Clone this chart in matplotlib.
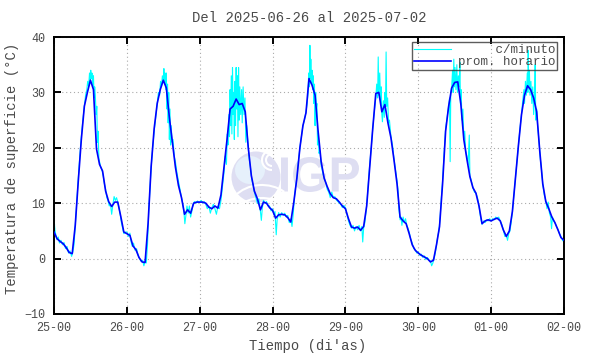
import numpy as np
import pandas as pd
import matplotlib
matplotlib.use('Agg')
import matplotlib.pyplot as plt
import matplotlib.dates as mdates
from matplotlib.patches import Ellipse, Arc, PathPatch
from matplotlib.textpath import TextPath
from matplotlib.font_manager import FontProperties
from matplotlib.transforms import Affine2D, IdentityTransform

# hourly averages (prom. horario), one list per day, hour 0..23
day25 = [4.8, 3.6, 3.1, 2.7, 2.0, 1.1, 0.9, 6.0, 14.0, 21.5, 27.5, 30.0, 32.2, 30.5, 19.8, 17.0, 15.8, 12.2, 10.3, 9.4, 10.2, 10.2, 7.6, 4.8]
day26 = [4.5, 4.2, 2.3, 1.6, 0.2, -0.6, -0.7, 6.4, 16.6, 23.5, 28.0, 30.5, 32.2, 30.8, 25.5, 21.0, 16.5, 13.2, 11.0, 8.0, 8.8, 8.2, 10.0, 10.2]
day27 = [10.2, 10.2, 10.0, 9.3, 9.0, 9.5, 9.1, 11.5, 16.5, 21.5, 27.0, 27.5, 28.8, 27.8, 28.0, 26.5, 20.0, 15.0, 12.2, 10.8, 8.8, 10.2, 10.0, 9.2]
day28 = [8.7, 7.3, 7.9, 8.0, 7.9, 7.4, 6.6, 10.2, 14.5, 20.0, 24.0, 26.3, 32.5, 31.3, 29.5, 23.0, 17.5, 14.5, 13.0, 11.7, 11.0, 10.8, 10.2, 9.5]
day29 = [9.0, 7.2, 5.7, 5.5, 5.7, 5.1, 5.8, 9.5, 16.5, 23.5, 29.8, 30.0, 26.5, 27.8, 24.5, 21.8, 17.8, 13.5, 7.5, 6.8, 6.3, 4.5, 2.5, 1.5]
day30 = [1.0, 0.6, 0.3, 0.0, -0.6, -0.3, 2.5, 5.8, 13.5, 23.0, 27.5, 30.8, 31.8, 31.9, 28.0, 21.5, 18.0, 14.8, 12.8, 11.8, 9.5, 6.3, 6.8, 7.0]
day01 = [6.8, 7.1, 7.3, 6.8, 5.2, 4.0, 5.0, 8.5, 14.5, 20.5, 26.0, 29.5, 31.2, 30.5, 29.0, 26.5, 19.5, 13.5, 10.3, 9.0, 7.5, 6.5, 5.2, 3.8]
last_hour = 3.3

# per-minute readings (c/minuto), read as (hour of day, value) per day
c25 = [(0.0, 7.2), (0.3, 5.2), (0.7, 4.0), (1.0, 3.4), (1.4, 3.9), (1.8, 2.8), (2.3, 3.3), (2.8, 2.5), (3.3, 2.9),
       (3.8, 1.8), (4.3, 2.2), (4.8, 1.0), (5.3, 1.4), (5.8, 0.4), (6.2, 1.2), (6.6, 2.5), (7.0, 6.0), (7.5, 10.5),
       (8.0, 14.5), (8.5, 18.5), (9.0, 22.0), (9.5, 25.0), (10.0, 27.5), (10.4, 29.5), (10.8, 30.5), (11.1, 32.0),
       (11.4, 31.0), (11.7, 33.5), (11.9, 32.0), (12.1, 34.0), (12.3, 32.5), (12.5, 33.5), (12.8, 31.0), (13.0, 33.0),
       (13.2, 29.0), (13.4, 31.0), (13.6, 29.5), (13.9, 26.0), (14.1, 27.5), (14.3, 21.0), (14.5, 23.0), (14.8, 18.0),
       (15.0, 17.5), (15.4, 16.5), (15.8, 16.0), (16.2, 15.0), (16.6, 13.5), (17.0, 12.5), (17.4, 11.0), (17.8, 10.5),
       (18.2, 9.5), (18.6, 9.8), (19.0, 8.0), (19.4, 9.8), (19.8, 11.2), (20.2, 10.5), (20.6, 11.0), (21.0, 10.2),
       (21.4, 9.2), (21.8, 8.0), (22.2, 6.5), (22.6, 5.5), (23.0, 4.5), (23.5, 4.8)]
c26 = [(0.0, 4.8), (0.5, 4.0), (1.0, 4.6), (1.4, 3.0), (1.8, 2.2), (2.2, 2.8), (2.7, 1.5), (3.2, 1.8), (3.7, 0.6),
       (4.2, 0.0), (4.7, -0.5), (5.2, -0.3), (5.6, -1.3), (6.0, -0.5), (6.4, -0.8), (6.8, 2.5), (7.2, 8.5), (7.6, 12.5),
       (8.0, 16.5), (8.5, 20.0), (9.0, 23.0), (9.5, 25.5), (10.0, 28.0), (10.4, 30.0), (10.8, 29.5), (11.1, 32.0),
       (11.4, 31.0), (11.7, 33.0), (12.0, 32.0), (12.2, 34.3), (12.4, 31.5), (12.6, 33.5), (12.8, 30.5), (13.0, 33.5),
       (13.2, 27.0), (13.4, 31.5), (13.6, 24.5), (13.8, 30.0), (14.0, 21.5), (14.2, 27.0), (14.4, 20.5), (14.6, 24.0),
       (14.9, 21.0), (15.2, 21.5), (15.6, 18.5), (16.0, 17.5), (16.5, 15.5), (17.0, 14.0), (17.5, 12.5), (18.0, 11.0),
       (18.4, 10.0), (18.8, 8.5), (19.1, 6.3), (19.5, 8.0), (19.8, 9.5), (20.2, 8.2), (20.6, 9.5), (21.0, 7.5),
       (21.4, 8.5), (21.8, 9.8), (22.3, 10.3), (22.8, 10.0), (23.3, 10.4), (23.8, 10.1)]
c27 = [(0.0, 10.2), (0.5, 10.5), (1.0, 10.0), (1.5, 10.3), (2.0, 9.8), (2.5, 9.0), (3.0, 9.5), (3.5, 8.2), (4.0, 9.2),
       (4.5, 9.8), (5.0, 9.0), (5.5, 8.0), (6.0, 9.5), (6.5, 9.0), (7.0, 10.5), (7.5, 13.0), (8.0, 15.5), (8.4, 18.5),
       (8.8, 17.0), (9.1, 22.5), (9.3, 20.5), (9.6, 26.0), (9.8, 22.0), (10.0, 30.5), (10.2, 24.0), (10.4, 33.0),
       (10.6, 22.5), (10.8, 34.5), (11.0, 26.0), (11.2, 30.0), (11.4, 21.5), (11.6, 32.0), (11.8, 24.0), (12.0, 34.5),
       (12.2, 27.0), (12.4, 33.0), (12.6, 22.0), (12.8, 34.5), (13.0, 25.0), (13.2, 31.0), (13.5, 26.0), (13.8, 30.5),
       (14.0, 24.5), (14.3, 31.0), (14.6, 26.0), (14.9, 29.0), (15.2, 21.0), (15.5, 24.0), (15.9, 20.5), (16.3, 18.0),
       (16.7, 16.5), (17.1, 14.5), (17.5, 13.5), (18.0, 12.0), (18.5, 11.0), (19.0, 10.0), (19.5, 10.8), (20.0, 8.5),
       (20.3, 6.9), (20.6, 9.0), (21.0, 10.5), (21.5, 10.0), (22.0, 10.3), (22.5, 9.5), (23.0, 9.5), (23.5, 8.6)]
c28 = [(0.0, 9.0), (0.4, 8.0), (0.8, 8.5), (1.2, 4.3), (1.5, 7.0), (2.0, 8.3), (2.5, 7.5), (3.0, 8.3), (3.5, 7.8),
       (4.0, 8.2), (4.5, 7.5), (5.0, 7.8), (5.5, 6.5), (6.0, 7.2), (6.4, 5.8), (6.8, 8.0), (7.2, 11.0), (7.6, 13.0),
       (8.0, 14.5), (8.5, 17.5), (9.0, 20.0), (9.5, 22.0), (10.0, 24.0), (10.5, 25.0), (11.0, 26.5), (11.4, 28.0),
       (11.7, 30.0), (11.9, 33.5), (12.1, 31.0), (12.3, 38.5), (12.45, 32.5), (12.6, 36.0), (12.8, 31.5), (13.0, 34.0),
       (13.2, 30.5), (13.4, 33.0), (13.6, 28.0), (13.8, 31.5), (14.0, 24.0), (14.2, 30.0), (14.4, 27.0), (14.6, 28.0),
       (14.8, 20.5), (15.0, 22.5), (15.3, 19.0), (15.6, 19.5), (16.0, 17.0), (16.5, 15.5), (17.0, 14.5), (17.5, 13.8),
       (18.0, 12.5), (18.5, 12.0), (19.0, 11.0), (19.5, 12.0), (20.0, 11.0), (20.5, 11.2), (21.0, 10.6), (21.5, 10.3),
       (22.0, 10.0), (22.5, 9.8), (23.0, 9.2), (23.5, 9.6)]
c29 = [(0.0, 9.2), (0.5, 8.0), (1.0, 6.8), (1.5, 6.0), (2.0, 5.5), (2.5, 6.0), (3.0, 5.0), (3.5, 5.8), (4.0, 5.2),
       (4.5, 6.0), (5.0, 5.0), (5.4, 5.8), (5.7, 3.0), (6.0, 5.5), (6.4, 6.5), (6.8, 8.5), (7.2, 11.0), (7.6, 14.0),
       (8.0, 17.0), (8.5, 20.0), (9.0, 23.5), (9.5, 26.5), (10.0, 29.0), (10.3, 31.5), (10.6, 29.0), (10.8, 36.4),
       (11.0, 29.5), (11.3, 33.5), (11.6, 28.0), (11.8, 31.0), (12.0, 26.0), (12.2, 24.7), (12.5, 28.5), (12.8, 25.5),
       (13.0, 30.0), (13.2, 27.0), (13.4, 37.3), (13.6, 27.5), (13.9, 29.0), (14.2, 24.5), (14.5, 25.0), (15.0, 22.0),
       (15.5, 20.5), (16.0, 18.0), (16.5, 16.0), (17.0, 14.0), (17.3, 12.5), (17.6, 9.0), (18.0, 7.0), (18.3, 7.5),
       (18.6, 6.0), (19.0, 7.5), (19.4, 6.5), (19.8, 7.2), (20.2, 6.0), (20.6, 5.5), (21.0, 4.8), (21.5, 3.5),
       (22.0, 2.8), (22.5, 1.8), (23.0, 1.6), (23.5, 1.0)]
c30 = [(0.0, 1.2), (0.5, 0.6), (1.0, 0.8), (1.5, 0.2), (2.0, 0.5), (2.5, -0.2), (3.0, 0.2), (3.5, -0.3), (4.0, -0.4),
       (4.4, -1.3), (4.8, -0.8), (5.2, 0.0), (5.6, 1.0), (6.0, 2.5), (6.4, 4.0), (6.8, 5.0), (7.2, 7.5), (7.6, 11.0),
       (8.0, 14.0), (8.5, 19.0), (9.0, 23.5), (9.5, 25.5), (10.0, 27.5), (10.3, 29.0), (10.5, 17.5), (10.7, 30.0),
       (11.0, 31.0), (11.3, 34.0), (11.5, 30.0), (11.7, 36.0), (11.9, 31.0), (12.1, 34.5), (12.4, 30.5), (12.7, 35.0),
       (12.9, 30.0), (13.2, 33.0), (13.5, 31.0), (13.7, 35.5), (13.9, 28.0), (14.1, 30.5), (14.4, 25.0), (14.7, 27.0),
       (15.0, 21.5), (15.3, 23.0), (15.6, 19.5), (16.0, 18.5), (16.4, 17.0), (16.8, 22.3), (17.0, 15.0), (17.5, 14.0),
       (18.0, 12.8), (18.5, 12.0), (19.0, 11.8), (19.5, 11.0), (20.0, 9.5), (20.5, 7.5), (21.0, 6.2), (21.5, 6.8),
       (22.0, 6.5), (22.5, 7.0), (23.0, 6.8), (23.5, 7.2)]
c01 = [(0.0, 6.8), (0.5, 7.2), (1.0, 7.0), (1.5, 7.5), (2.0, 7.2), (2.5, 7.5), (3.0, 6.8), (3.5, 6.2), (4.0, 5.2),
       (4.5, 4.0), (5.0, 4.2), (5.4, 3.3), (5.8, 4.5), (6.2, 5.0), (6.6, 6.5), (7.0, 8.5), (7.5, 11.5), (8.0, 14.5),
       (8.5, 17.5), (9.0, 20.5), (9.5, 23.5), (10.0, 26.0), (10.4, 28.5), (10.8, 30.5), (11.0, 28.0), (11.3, 32.0),
       (11.6, 29.5), (11.9, 33.5), (12.1, 30.0), (12.2, 37.6), (12.4, 31.0), (12.6, 34.0), (12.8, 29.5), (13.1, 32.0),
       (13.4, 28.0), (13.7, 31.0), (14.0, 26.0), (14.3, 29.5), (14.5, 35.0), (14.7, 25.0), (15.0, 27.0), (15.3, 24.0),
       (15.8, 21.0), (16.2, 18.0), (16.6, 16.0), (17.0, 13.5), (17.5, 11.5), (18.0, 10.5), (18.4, 9.0), (18.8, 10.2),
       (19.2, 8.2), (19.6, 7.5), (19.9, 5.4), (20.2, 7.5), (20.6, 6.8), (21.0, 6.5), (21.5, 5.8), (22.0, 5.3),
       (22.5, 4.5), (23.0, 4.0), (23.5, 3.3), (24.0, 3.0)]

title = 'Del 2025-06-26 al 2025-07-02'
start = pd.Timestamp('2025-06-25 00:00')

hourly = day25 + day26 + day27 + day28 + day29 + day30 + day01 + [last_hour]
t_hour = start + pd.to_timedelta(np.arange(len(hourly)), unit='h')

minute_days = [c25, c26, c27, c28, c29, c30, c01]
t_min = []
v_min = []
for d, pts in enumerate(minute_days):
    for h, v in pts:
        t_min.append(start + pd.Timedelta(days=d) + pd.Timedelta(hours=h))
        v_min.append(v)

W, H = 590, 354
fig = plt.figure(figsize=(W / 100, H / 100), dpi=100)
ax = fig.add_axes([54 / W, 1 - 314 / H, 510 / W, 277 / H])

mono = 'Liberation Mono'
txtc = '#4a4a4a'

# pixel helpers (origin top-left like the picture)
def fx(px):
    return px / W
def fy(py):
    return 1 - py / H

# IGP watermark
logo_c = '#dedef2'
ax.add_patch(Ellipse((fx(256), fy(177)), 49 / W, 51 / H, transform=fig.transFigure,
                     facecolor=logo_c, edgecolor='none', zorder=0.6))
ax.add_patch(Ellipse((fx(250), fy(170)), 30 / W, 28 / H, transform=fig.transFigure,
                     facecolor='#e6f0fb', edgecolor='none', zorder=0.6))
for (cx, cy, w, h, a1, a2) in [(272, 160, 20, 20, 90, 270), (272, 160, 12, 12, 90, 270),
                               (262, 215, 70, 60, 60, 130), (262, 228, 70, 60, 60, 125)]:
    ax.add_patch(Arc((fx(cx), fy(cy)), w / W, h / H, theta1=a1, theta2=a2, transform=fig.transFigure,
                     color='white', lw=1.5, zorder=0.65))
tp = TextPath((0, 0), 'IGP', size=100, prop=FontProperties(family='Liberation Sans', weight='bold'))
ext = tp.get_extents()
sx = 78 / ext.width
sy = 35 / ext.height
tr = Affine2D().translate(-ext.x0, -ext.y0).scale(sx, sy).translate(281, H - 192)
ax.add_patch(PathPatch(tr.transform_path(tp), transform=IdentityTransform(),
                       facecolor=logo_c, edgecolor='none', zorder=0.6))

ax.plot(t_min, v_min, color='#00ffff', lw=0.8, label='     c/minuto', zorder=2)
ax.plot(t_hour, hourly, color='#0000ff', lw=1.2, label='prom. horario', zorder=3)

ax.set_xlim(start, start + pd.Timedelta(days=7))
ax.set_ylim(-10, 40)
ax.set_yticks(range(-10, 41, 10))
ax.xaxis.set_major_locator(mdates.DayLocator())
ax.xaxis.set_major_formatter(mdates.DateFormatter('%d-%H'))

ax.grid(True, color='#aaaaaa', linestyle=(0, (1, 2.5)), linewidth=0.8, zorder=1)
ax.set_axisbelow(True)
ax.tick_params(direction='in', top=True, right=True, length=5, width=1.4, color='black',
               labelsize=8.5, labelcolor=txtc, pad=6)
for lab in ax.get_xticklabels() + ax.get_yticklabels():
    lab.set_fontfamily(mono)
for s in ax.spines.values():
    s.set_linewidth(1.4)
    s.set_color('black')

fig.text(309 / W, fy(18), title, ha='center', va='center', fontsize=10, family=mono, color=txtc)
fig.text(308 / W, fy(346), "Tiempo (di'as)", ha='center', va='center', fontsize=10, family=mono, color=txtc)
fig.text(12 / W, fy(168), 'Temperatura de superficie (°C)', ha='center', va='center', rotation=90,
         fontsize=10, family=mono, color=txtc)

leg = ax.legend(loc='upper right', bbox_to_anchor=(fx(557), fy(42)), bbox_transform=fig.transFigure,
                borderaxespad=0, prop={'family': mono, 'size': 9}, frameon=True, fancybox=False,
                handlelength=3.0, handletextpad=0.5, labelspacing=0.05, borderpad=0.15)
leg.get_frame().set_facecolor('none')
leg.get_frame().set_edgecolor('#333333')
leg.get_frame().set_linewidth(1.0)
for t in leg.get_texts():
    t.set_color(txtc)

fig.savefig('out.png', dpi=100)
